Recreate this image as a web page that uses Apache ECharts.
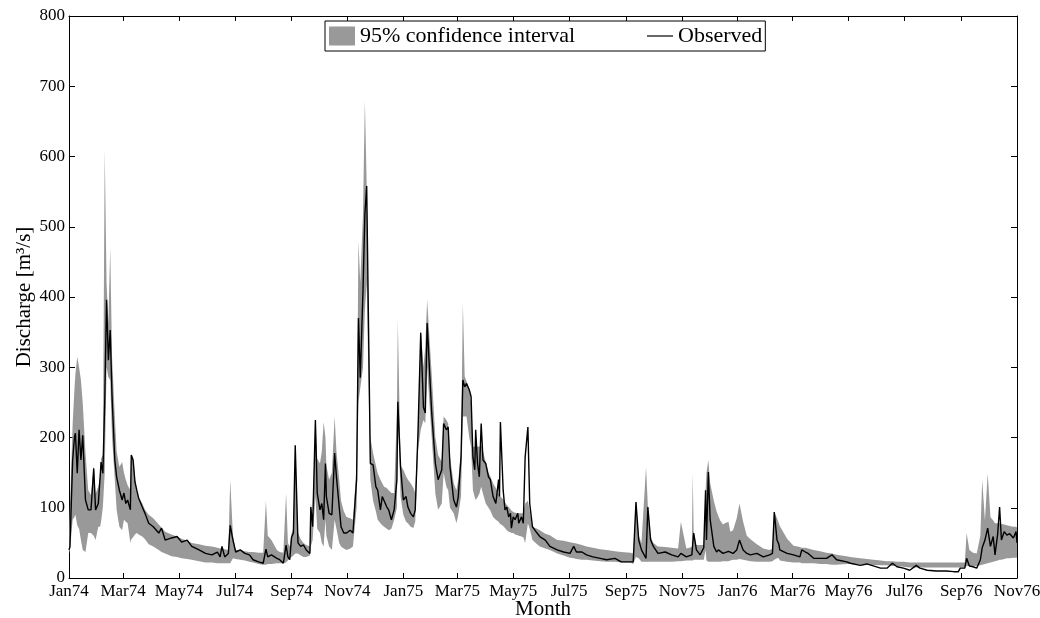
<!DOCTYPE html>
<html>
<head>
<meta charset="utf-8">
<script src="https://cdn.jsdelivr.net/npm/echarts@6/dist/echarts.min.js"></script>
<style>
html,body{margin:0;padding:0;background:#fff;}
#chart{width:1040px;height:618px;}
</style>
</head>
<body>
<div id="chart"></div>
<script>
// Day offsets counted from 1 Jan 1974
const days = [
  0,1,4,6,7,9,11,13,15,18,21,24,27,29,32,34,35,37,39,41,43,45,47,50,52,55,58,60,62,64,67,68,70,72,74,76,80,83,87,92,98,101,105,112,118,123,129,134,142,149,156,162,165,167,170,174,176,179,182,187,192,
  197,201,207,212,215,217,221,227,230,234,237,239,241,243,245,247,250,253,256,259,263,264,266,269,271,274,276,278,280,281,284,287,290,292,295,297,300,303,307,310,314,316,318,321,323,325,329,332,335,337,340,342,344,347,349,352,355,358,359,362,365,368,370,373,376,378,381,384,387,389,391,396,400,403,407,
  409,412,414,416,420,423,425,428,430,432,434,437,439,441,443,444,446,448,450,452,455,458,460,463,466,469,470,471,474,476,478,480,482,483,485,487,490,491,494,496,498,501,503,506,511,514,520,525,533,540,547,551,554,560,565,572,580,587,596,603,613,616,619,
  622,625,630,632,635,638,643,651,658,665,668,674,680,681,682,685,689,693,695,696,698,700,704,707,709,711,714,716,720,722,725,729,732,736,740,744,751,758,765,768,770,773,775,776,784,791,798,800,804,807,813,820,827,833,838,
  849,853,864,871,886,893,899,904,911,918,925,929,937,947,958,966,971,973,978,980,983,987,991,995,997,1000,1003,1006,1009,1011,1014,1016,1018,1021,1024,1027,1031,1034,1035
];
// Observed discharge [m3/s]
const observed = [
  40,44,168,201,206,149,211,168,203,111,97,97,156,97,106,144,165,149,250,396,310,353,258,168,144,125,111,121,106,111,97,175,168,137,125,114,101,92,78,73,64,71,54,57,59,51,54,45,40,35,33,37,30,45,30,35,75,54,37,40,35,
  33,26,23,21,41,30,33,28,26,21,47,30,26,58,64,189,50,45,47,40,35,101,73,225,121,97,106,83,163,116,92,90,178,144,101,73,64,64,68,64,140,370,285,410,517,558,163,161,130,125,97,116,114,101,97,83,97,140,251,158,111,116,101,92,87,97,206,349,243,235,363,235,163,140,154,
  220,211,215,158,111,101,116,172,282,272,277,268,258,172,154,211,163,144,220,168,163,144,140,116,106,140,116,222,125,97,101,87,92,71,87,83,92,78,87,78,172,215,106,73,64,59,54,45,40,37,35,45,37,37,33,30,28,26,28,23,23,23,108,
  54,40,28,101,54,45,35,37,33,30,35,30,33,35,64,40,33,43,125,54,151,83,45,37,40,40,35,35,38,40,35,40,54,40,35,33,35,30,33,35,94,54,48,40,35,33,30,40,37,35,28,28,28,33,26,
  23,21,18,20,14,14,21,16,14,11,18,14,11,10,10,9,9,14,14,28,17,16,14,26,43,54,71,45,59,33,64,101,54,66,61,63,57,66,50
];
// 95% confidence interval, lower bound
const ciLower = [
  35,40,83,87,90,75,70,54,40,37,64,64,60,54,73,73,80,101,150,300,286,282,200,140,97,73,68,83,80,78,50,55,58,62,64,62,59,55,48,45,40,37,35,31,30,28,27,26,24,22,22,21,21,21,21,21,21,28,27,26,25,
  23,22,20,19,19,20,20,21,21,21,22,25,28,30,32,35,35,32,30,30,32,45,54,116,70,64,50,45,83,60,45,40,83,70,50,45,42,40,42,45,100,250,270,300,380,420,140,110,95,83,78,75,73,70,68,70,83,100,240,116,90,80,78,73,71,80,180,211,225,220,300,200,120,97,106,
  150,130,125,100,92,78,90,116,230,230,230,200,187,125,115,111,115,120,130,120,106,100,96,87,83,80,78,77,74,71,68,66,65,64,64,62,61,60,59,58,50,78,70,54,48,45,42,40,35,32,29,28,27,26,26,25,24,23,23,22,22,20,30,
  28,23,23,23,23,23,23,23,23,24,24,25,25,25,26,26,26,26,40,25,23,23,23,23,23,23,24,24,24,25,26,26,27,26,25,24,23,23,23,24,26,28,28,25,23,22,22,21,21,21,21,20,20,19,19,
  20,20,19,19,18,18,17,17,16,15,15,15,15,15,15,15,15,15,15,17,17,17,17,18,19,20,21,22,23,24,25,26,26,27,28,28,29,29,29
];
// 95% confidence interval, upper bound
const ciUpper = [
  60,100,220,270,290,315,300,282,249,178,125,118,160,120,130,145,170,175,610,420,363,470,315,230,180,158,165,150,140,132,125,175,170,140,125,115,106,97,90,85,76,72,66,62,59,56,53,50,48,46,45,43,42,42,41,40,140,60,40,39,38,
  37,37,36,36,110,60,54,40,37,36,121,50,45,64,70,190,64,55,50,47,45,106,90,225,170,163,180,222,200,160,140,150,230,180,140,110,95,87,85,83,160,480,420,520,680,560,200,178,160,149,140,135,130,128,125,121,121,240,367,160,154,145,140,135,128,121,215,354,300,330,396,290,200,175,165,
  230,225,220,172,135,125,140,180,391,287,280,268,250,187,187,190,187,187,190,180,165,150,145,135,128,120,118,116,112,108,104,101,98,96,94,93,92,92,92,92,106,110,95,73,70,68,63,61,54,53,51,50,49,47,45,43,41,40,38,37,36,35,110,
  60,50,158,102,59,50,45,44,43,42,80,42,44,149,66,47,47,47,125,150,168,135,110,95,88,82,76,78,80,66,68,85,106,80,60,55,48,42,40,42,94,85,78,74,56,46,44,43,43,42,40,38,36,35,33,
  31,30,28,27,25,24,24,23,23,22,22,22,22,22,22,22,22,22,22,64,40,36,35,60,140,82,149,87,82,78,78,78,77,76,75,74,73,73,72
];
// x-axis tick positions (day offsets) and their labels
const tickDays = [0,59,120,181,243,304,365,424,485,546,608,669,730,790,851,912,974,1035];
const tickLabels = ['Jan74','Mar74','May74','Jul74','Sep74','Nov74','Jan75','Mar75','May75','Jul75','Sep75','Nov75','Jan76','Mar76','May76','Jul76','Sep76','Nov76'];
const yTicks = [0,100,200,300,400,500,600,700,800];

const FONT = 'Liberation Serif';
const BAND = '#999999';
const chart = echarts.init(document.getElementById('chart'), null, {renderer:'canvas'});

const axisCommonX = {
  type:'value', min:0, max:1035,
  axisLine:{show:true, onZero:false, lineStyle:{color:'#000', width:1}},
  axisTick:{show:true, inside:true, length:5, customValues:tickDays, lineStyle:{color:'#000', width:1}},
  splitLine:{show:false}
};
const axisCommonY = {
  type:'value', min:yTicks[0], max:yTicks[yTicks.length-1], interval:100,
  axisLine:{show:true, onZero:false, lineStyle:{color:'#000', width:1}},
  axisTick:{show:true, inside:true, length:6, lineStyle:{color:'#000', width:1}},
  splitLine:{show:false}
};

function renderBand(params, api) {
  if (params.dataIndex !== 0) return null;
  const pts = [];
  for (let i = 0; i < days.length; i++) pts.push(api.coord([days[i], ciUpper[i]]));
  for (let i = days.length - 1; i >= 0; i--) pts.push(api.coord([days[i], ciLower[i]]));
  return {type:'polygon', shape:{points:pts}, style:{fill:BAND, stroke:null}, silent:true};
}

chart.setOption({
  animation:false,
  backgroundColor:'#fff',
  grid:{left:69, right:23, top:16, bottom:40, containLabel:false, outerBoundsMode:'none'},
  legend:{
    left:325, top:21,
    orient:'horizontal',
    backgroundColor:'#fff',
    borderColor:'#000', borderWidth:1,
    padding:[4,3,4,4],
    itemWidth:26, itemHeight:19, itemGap:72,
    textStyle:{fontFamily:FONT, fontSize:22, color:'#000', lineHeight:22},
    data:[
      {name:'95% confidence interval', icon:'rect', itemStyle:{color:BAND, borderWidth:0}},
      {name:'Observed', icon:'path://M0,0H26V1.2H0Z', itemStyle:{color:'#000', borderWidth:0}}
    ]
  },
  xAxis:[
    Object.assign({}, axisCommonX, {
      position:'bottom',
      name:'Month', nameLocation:'middle', nameGap:21, nameMoveOverlap:false,
      nameTextStyle:{fontFamily:FONT, fontSize:21, color:'#000'},
      axisLabel:{show:true, customValues:tickDays, margin:5,
        fontFamily:FONT, fontSize:17, color:'#000',
        formatter:function(v){ const i = tickDays.indexOf(v); return i>=0 ? tickLabels[i] : ''; }}
    }),
    Object.assign({}, axisCommonX, {
      position:'top',
      axisLabel:{show:false}
    })
  ],
  yAxis:[
    Object.assign({}, axisCommonY, {
      position:'left',
      name:'Discharge [m³/s]', nameLocation:'middle', nameGap:34, nameRotate:90, nameMoveOverlap:false,
      nameTextStyle:{fontFamily:FONT, fontSize:21, color:'#000'},
      axisLabel:{show:true, margin:4, fontFamily:FONT, fontSize:17, color:'#000'}
    }),
    Object.assign({}, axisCommonY, {
      position:'right',
      axisLabel:{show:false}
    })
  ],
  series:[
    {
      name:'95% confidence interval', type:'custom', xAxisIndex:0, yAxisIndex:0,
      data:days.map((d,i)=>[d, ciLower[i], ciUpper[i]]),
      encode:{x:0, y:[1,2]},
      renderItem:renderBand,
      itemStyle:{color:BAND}, silent:true, z:1
    },
    {
      name:'Observed', type:'line', xAxisIndex:0, yAxisIndex:0,
      data:days.map((d,i)=>[d, observed[i]]),
      symbol:'none', showSymbol:false, silent:true, color:'#000',
      lineStyle:{color:'#000', width:1.4}, z:3
    }
  ]
});
</script>
</body>
</html>
